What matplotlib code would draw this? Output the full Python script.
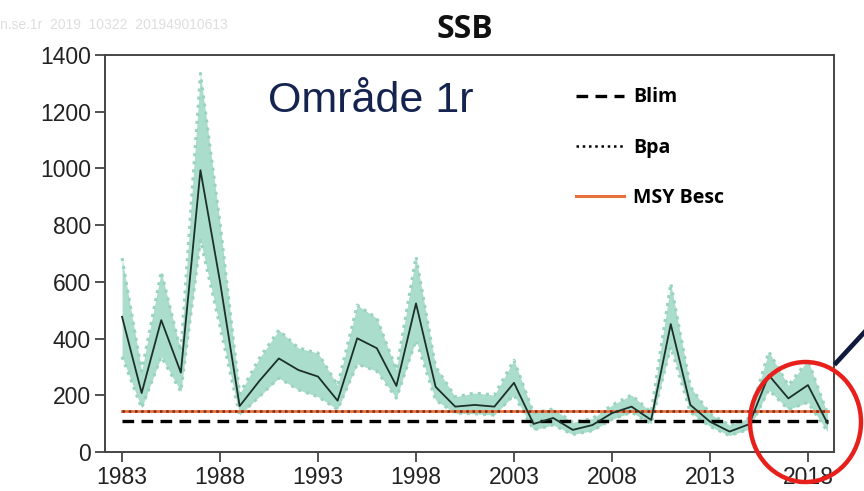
import numpy as np
import matplotlib
matplotlib.use("Agg")
import matplotlib.pyplot as plt
from matplotlib.patches import Ellipse
from matplotlib.lines import Line2D

# SSB estimates (tonnes), Område 1r
years = np.arange(1983, 2020)
ssb_median = [477, 208, 465, 280, 994, 600, 162, 250, 330, 289,
              266, 181, 401, 366, 233, 524, 230, 160, 166, 160,
              244, 99, 120, 78, 95, 137, 160, 113, 451, 166,
              107, 72, 98, 271, 189, 236, 101]
ssb_upper = [684, 285, 636, 355, 1335, 807, 205, 330, 430, 367,
             349, 235, 518, 472, 290, 689, 301, 195, 208, 201,
             324, 137, 152, 105, 118, 165, 201, 140, 595, 230,
             135, 95, 120, 354, 235, 324, 135]
ssb_lower = [336, 155, 336, 213, 747, 442, 130, 195, 261, 219,
             195, 150, 310, 285, 190, 395, 183, 137, 135, 130,
             201, 78, 95, 62, 75, 115, 140, 100, 371, 140,
             90, 58, 80, 219, 150, 175, 72]

blim = 110
bpa = 146
msy_besc = 146

ref_labels = ["Blim", "Bpa", "MSY Besc"]
x_ticks = [1983, 1988, 1993, 1998, 2003, 2008, 2013, 2018]
y_ticks = [0, 200, 400, 600, 800, 1000, 1200, 1400]

W, H = 864, 491
fig = plt.figure(figsize=(W / 100, H / 100), dpi=100)
ax = fig.add_axes([105 / W, 1 - 452 / H, (834 - 105) / W, (452 - 55) / H])

# confidence band with dotted edges
ax.fill_between(years, ssb_lower, ssb_upper, color="#abddcc", lw=0, zorder=1)
ax.plot(years, ssb_upper, color="#9ad4c0", ls=":", lw=2.2, zorder=1.5)
ax.plot(years, ssb_lower, color="#9ad4c0", ls=":", lw=2.2, zorder=1.5)

# reference points
ax.plot(years, [msy_besc] * len(years), color="#e8703a", lw=2.0, zorder=2)
ax.plot(years, [bpa] * len(years), color="#7a2a1a", ls=(0, (1, 1.5)), lw=1.8, zorder=2.1)
ax.plot(years, [blim] * len(years), color="black", ls=(0, (3.5, 2.2)), lw=2.4, zorder=2.2)

ax.plot(years, ssb_median, color="#1c302b", lw=1.3, zorder=3)

ax.set_xlim(1982.13, 2019.33)
ax.set_ylim(0, 1400)
ax.set_xticks(x_ticks)
ax.set_yticks(y_ticks)
ax.tick_params(axis="both", direction="out", length=7, width=1.2,
               colors="#333333", labelsize=16.5, pad=3)
for lab in ax.get_xticklabels() + ax.get_yticklabels():
    lab.set_family("Liberation Sans")
    lab.set_color("#222222")
for sp in ax.spines.values():
    sp.set_color("#444444")
    sp.set_linewidth(1.4)

# legend
handles = [
    Line2D([], [], color="black", ls=(0, (3.5, 2.2)), lw=2.4),
    Line2D([], [], color="black", ls=(0, (1, 1.5)), lw=1.8),
    Line2D([], [], color="#e8703a", lw=2.2),
]
ax.legend(handles, ref_labels, loc="upper left",
          bbox_to_anchor=(558 / W, 1 - 70 / H), bbox_transform=fig.transFigure,
          frameon=False, handlelength=2.5, handletextpad=0.45, labelspacing=1.55,
          prop={"family": "Open Sans", "weight": "bold", "size": 14})

# titles and texts
fig.text(465 / W, 1 - 30 / H, "SSB", ha="center", va="center",
         family="Open Sans", weight="bold", fontsize=23, color="#111111")
ax.text(268 / W, 1 - 101 / H, "Område 1r", transform=fig.transFigure,
        ha="left", va="center", family="Liberation Sans", fontsize=31,
        color="#14244f")
fig.text(0, 1 - 25 / H, "n.se.1r  2019  10322  201949010613", ha="left",
         va="center", fontsize=10, color="#dedede", family="Liberation Sans")

# highlight annotation
fig.patches.append(Ellipse((805.5 / W, 1 - 422 / H), 111 / W, 120 / H,
                           transform=fig.transFigure, fill=False,
                           ec="#e8201c", lw=3.2, zorder=10))
fig.lines.append(Line2D([836 / W, 872 / W], [1 - 363 / H, 1 - 324 / H],
                        transform=fig.transFigure, color="#111a3c", lw=3.4,
                        zorder=10))

fig.savefig("out.png", dpi=100)
